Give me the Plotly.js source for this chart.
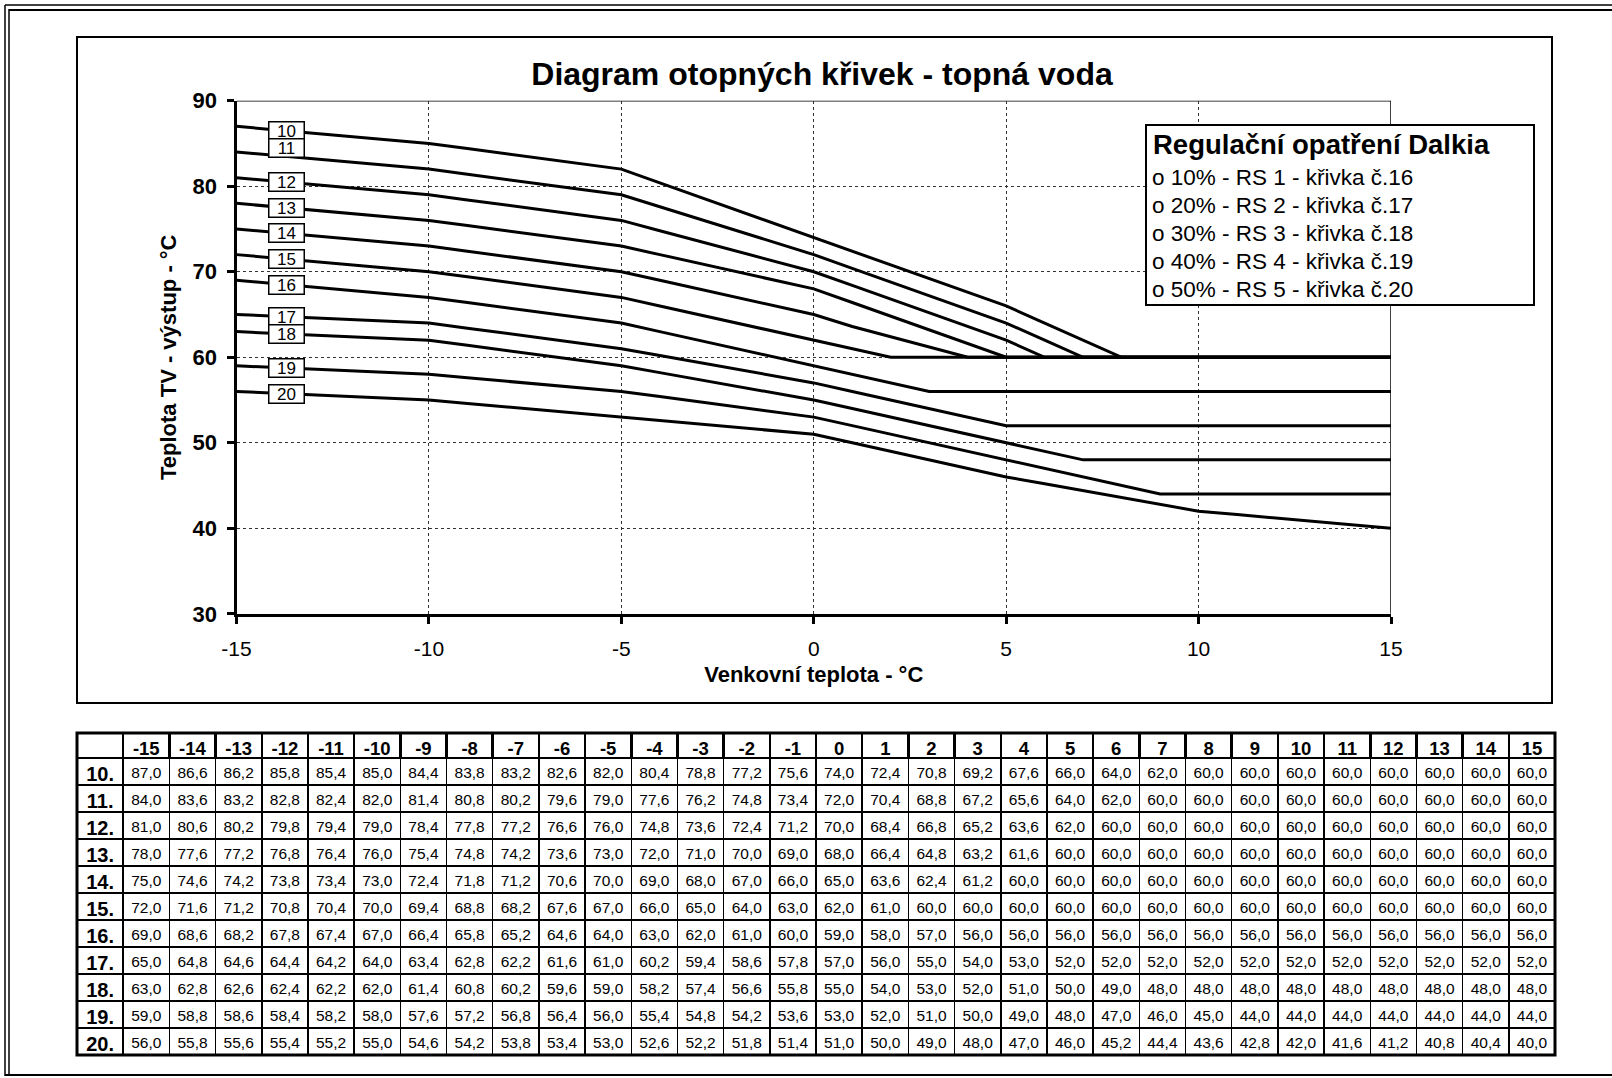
<!DOCTYPE html>
<html>
<head>
<meta charset="utf-8">
<script src="https://cdn.plot.ly/plotly-3.0.1.min.js"></script>
<style>
html,body{margin:0;padding:0;background:#fff;}
#chart{width:1612px;height:1078px;}
</style>
</head>
<body>
<div id="chart"></div>
<script>
// ---------- data ----------
const temps = [-15,-14,-13,-12,-11,-10,-9,-8,-7,-6,-5,-4,-3,-2,-1,0,1,2,3,4,5,6,7,8,9,10,11,12,13,14,15];
const xTicks = [-15,-10,-5,0,5,10,15];
const curveNames = ['10','11','12','13','14','15','16','17','18','19','20'];

const c10 = [87.0,86.6,86.2,85.8,85.4,85.0,84.4,83.8,83.2,82.6,82.0,80.4,78.8,77.2,75.6,74.0,72.4,70.8,69.2,67.6,66.0,64.0,62.0,60.0,60.0,60.0,60.0,60.0,60.0,60.0,60.0];
const c11 = [84.0,83.6,83.2,82.8,82.4,82.0,81.4,80.8,80.2,79.6,79.0,77.6,76.2,74.8,73.4,72.0,70.4,68.8,67.2,65.6,64.0,62.0,60.0,60.0,60.0,60.0,60.0,60.0,60.0,60.0,60.0];
const c12 = [81.0,80.6,80.2,79.8,79.4,79.0,78.4,77.8,77.2,76.6,76.0,74.8,73.6,72.4,71.2,70.0,68.4,66.8,65.2,63.6,62.0,60.0,60.0,60.0,60.0,60.0,60.0,60.0,60.0,60.0,60.0];
const c13 = [78.0,77.6,77.2,76.8,76.4,76.0,75.4,74.8,74.2,73.6,73.0,72.0,71.0,70.0,69.0,68.0,66.4,64.8,63.2,61.6,60.0,60.0,60.0,60.0,60.0,60.0,60.0,60.0,60.0,60.0,60.0];
const c14 = [75.0,74.6,74.2,73.8,73.4,73.0,72.4,71.8,71.2,70.6,70.0,69.0,68.0,67.0,66.0,65.0,63.6,62.4,61.2,60.0,60.0,60.0,60.0,60.0,60.0,60.0,60.0,60.0,60.0,60.0,60.0];
const c15 = [72.0,71.6,71.2,70.8,70.4,70.0,69.4,68.8,68.2,67.6,67.0,66.0,65.0,64.0,63.0,62.0,61.0,60.0,60.0,60.0,60.0,60.0,60.0,60.0,60.0,60.0,60.0,60.0,60.0,60.0,60.0];
const c16 = [69.0,68.6,68.2,67.8,67.4,67.0,66.4,65.8,65.2,64.6,64.0,63.0,62.0,61.0,60.0,59.0,58.0,57.0,56.0,56.0,56.0,56.0,56.0,56.0,56.0,56.0,56.0,56.0,56.0,56.0,56.0];
const c17 = [65.0,64.8,64.6,64.4,64.2,64.0,63.4,62.8,62.2,61.6,61.0,60.2,59.4,58.6,57.8,57.0,56.0,55.0,54.0,53.0,52.0,52.0,52.0,52.0,52.0,52.0,52.0,52.0,52.0,52.0,52.0];
const c18 = [63.0,62.8,62.6,62.4,62.2,62.0,61.4,60.8,60.2,59.6,59.0,58.2,57.4,56.6,55.8,55.0,54.0,53.0,52.0,51.0,50.0,49.0,48.0,48.0,48.0,48.0,48.0,48.0,48.0,48.0,48.0];
const c19 = [59.0,58.8,58.6,58.4,58.2,58.0,57.6,57.2,56.8,56.4,56.0,55.4,54.8,54.2,53.6,53.0,52.0,51.0,50.0,49.0,48.0,47.0,46.0,45.0,44.0,44.0,44.0,44.0,44.0,44.0,44.0];
const c20 = [56.0,55.8,55.6,55.4,55.2,55.0,54.6,54.2,53.8,53.4,53.0,52.6,52.2,51.8,51.4,51.0,50.0,49.0,48.0,47.0,46.0,45.2,44.4,43.6,42.8,42.0,41.6,41.2,40.8,40.4,40.0];

const chartTitle = 'Diagram otopných křivek - topná voda';
const xTitle = 'Venkovní teplota - °C';
const yTitle = 'Teplota TV - výstup - °C';
const legendTitle = 'Regulační opatření Dalkia';
const legendLines = [
  'o 10% - RS 1 - křivka č.16',
  'o 20% - RS 2 - křivka č.17',
  'o 30% - RS 3 - křivka č.18',
  'o 40% - RS 4 - křivka č.19',
  'o 50% - RS 5 - křivka č.20'
];

// ---------- helpers ----------
const curves = [c10,c11,c12,c13,c14,c15,c16,c17,c18,c19,c20];
const W = 1612, H = 1078;
const px = v => v / W;
const py = v => 1 - v / H;
const FONT = 'Liberation Sans, Arial, sans-serif';
const fmt = v => v.toFixed(1).replace('.', ',');

// ---------- traces ----------
const traces = curves.map((c, i) => ({
  type: 'scatter', mode: 'lines',
  x: temps, y: c,
  name: curveNames[i],
  line: {color: '#000', width: 3},
  hoverinfo: 'skip', showlegend: false
}));

const nCols = temps.length + 1;
traces.push({
  type: 'table',
  domain: {x: [px(77), px(1555)], y: [py(1060), py(733)]},
  columnwidth: Array(nCols).fill(1),
  header: {
    values: [''].concat(temps.map(String)),
    height: 25,
    align: 'center',
    font: {family: FONT, size: 18.5, color: '#000', weight: 'bold'},
    line: {color: '#000', width: 2.5},
    fill: {color: '#fff'}
  },
  cells: {
    values: [curveNames.map(n => n + '.')].concat(temps.map((t, i) => curves.map(c => fmt(c[i])))),
    height: 27,
    align: 'center',
    font: {
      family: FONT,
      size: [20].concat(Array(temps.length).fill(15.5)),
      color: '#000',
      weight: ['bold'].concat(Array(temps.length).fill('normal'))
    },
    line: {color: '#000', width: [2.5].concat(Array(temps.length).fill(1.5))},
    fill: {color: '#fff'}
  }
});

// ---------- annotations ----------
const annotations = [];
const labelX = -13.7;
curves.forEach((c, i) => {
  const i0 = temps.indexOf(-14), i1 = temps.indexOf(-13);
  const yv = c[i0] + (c[i1] - c[i0]) * (labelX - temps[i0]) / (temps[i1] - temps[i0]);
  annotations.push({
    xref: 'x', yref: 'y', x: labelX, y: yv,
    text: curveNames[i], showarrow: false,
    font: {family: FONT, size: 17, color: '#000'},
    bgcolor: '#fff', bordercolor: '#000', borderwidth: 1.5, borderpad: 1,
    width: 32, height: 15,
    yshift: curveNames[i] === '11' ? 8 : 0
  });
});

annotations.push({
  xref: 'paper', yref: 'paper', x: px(1151), y: py(145),
  xanchor: 'left', yanchor: 'middle', showarrow: false,
  text: legendTitle,
  font: {family: FONT, size: 27.5, color: '#000', weight: 'bold'}
});
legendLines.forEach((t, i) => {
  annotations.push({
    xref: 'paper', yref: 'paper', x: px(1150), y: py(177 + i * 28),
    xanchor: 'left', yanchor: 'middle', showarrow: false,
    text: t,
    font: {family: FONT, size: 22.5, color: '#000'}
  });
});

// ---------- shapes ----------
const shapes = [
  // page frame (double line)
  {type: 'line', xref: 'paper', yref: 'paper', x0: px(5), x1: px(5), y0: py(5), y1: py(1076), line: {color: '#000', width: 1.5}},
  {type: 'line', xref: 'paper', yref: 'paper', x0: px(9), x1: px(9), y0: py(9), y1: py(1074), line: {color: '#000', width: 1.5}},
  {type: 'line', xref: 'paper', yref: 'paper', x0: px(5), x1: 1, y0: py(5), y1: py(5), line: {color: '#000', width: 1.5}},
  {type: 'line', xref: 'paper', yref: 'paper', x0: px(9), x1: 1, y0: py(10), y1: py(10), line: {color: '#000', width: 2}},
  {type: 'line', xref: 'paper', yref: 'paper', x0: px(5), x1: 1, y0: py(1075), y1: py(1075), line: {color: '#000', width: 2}},
  // chart frame
  {type: 'rect', xref: 'paper', yref: 'paper', x0: px(77), x1: px(1552), y0: py(37), y1: py(703), line: {color: '#000', width: 2}, layer: 'below'},
  // plot area top/right border
  {type: 'line', xref: 'x', yref: 'y', x0: -15, x1: 15, y0: 90, y1: 90, line: {color: '#000', width: 1.5}, layer: 'below'},
  {type: 'line', xref: 'x', yref: 'y', x0: 15, x1: 15, y0: 30, y1: 90, line: {color: '#000', width: 1.5}, layer: 'below'},
  // legend box
  {type: 'rect', xref: 'paper', yref: 'paper', x0: px(1146), x1: px(1534), y0: py(125), y1: py(305), fillcolor: '#fff', line: {color: '#000', width: 2}, layer: 'above'},
  // table outer border
  {type: 'rect', xref: 'paper', yref: 'paper', x0: px(77), x1: px(1555), y0: py(733), y1: py(1055), line: {color: '#000', width: 3}, layer: 'above'}
];

// ---------- layout ----------
const layout = {
  width: W, height: H,
  margin: {l: 0, r: 0, t: 0, b: 0, pad: 0},
  paper_bgcolor: '#fff', plot_bgcolor: '#fff',
  font: {family: FONT, color: '#000'},
  showlegend: false,
  title: {
    text: chartTitle,
    x: px(822), y: py(74), xanchor: 'center', yanchor: 'middle',
    xref: 'paper', yref: 'paper',
    font: {family: FONT, size: 32, color: '#000', weight: 'bold'}
  },
  xaxis: {
    domain: [px(236.5), px(1391)],
    range: [-15, 15], autorange: false,
    tickmode: 'array', tickvals: xTicks, ticktext: xTicks.map(String),
    showline: true, linecolor: '#000', linewidth: 3,
    ticks: 'outside', ticklen: 7, tickwidth: 3, tickcolor: '#000',
    ticklabelstandoff: 7,
    tickfont: {family: FONT, size: 21, color: '#000'},
    showgrid: true, gridcolor: '#333', gridwidth: 1, griddash: 'dot',
    zeroline: false,
    title: {text: xTitle, standoff: 8, font: {family: FONT, size: 22, color: '#000', weight: 'bold'}}
  },
  yaxis: {
    domain: [py(613.8), py(100.7)],
    range: [30, 90], autorange: false,
    dtick: 10, tick0: 30,
    showline: true, linecolor: '#000', linewidth: 3,
    ticks: 'outside', ticklen: 7, tickwidth: 3, tickcolor: '#000',
    ticklabelstandoff: 5,
    tickfont: {family: FONT, size: 22, color: '#000', weight: 'bold'},
    showgrid: true, gridcolor: '#333', gridwidth: 1, griddash: 'dot',
    zeroline: false,
    title: {text: yTitle, standoff: 10, font: {family: FONT, size: 22, color: '#000', weight: 'bold'}}
  },
  annotations: annotations,
  shapes: shapes
};

Plotly.newPlot('chart', traces, layout, {staticPlot: true, displayModeBar: false});
</script>
</body>
</html>
